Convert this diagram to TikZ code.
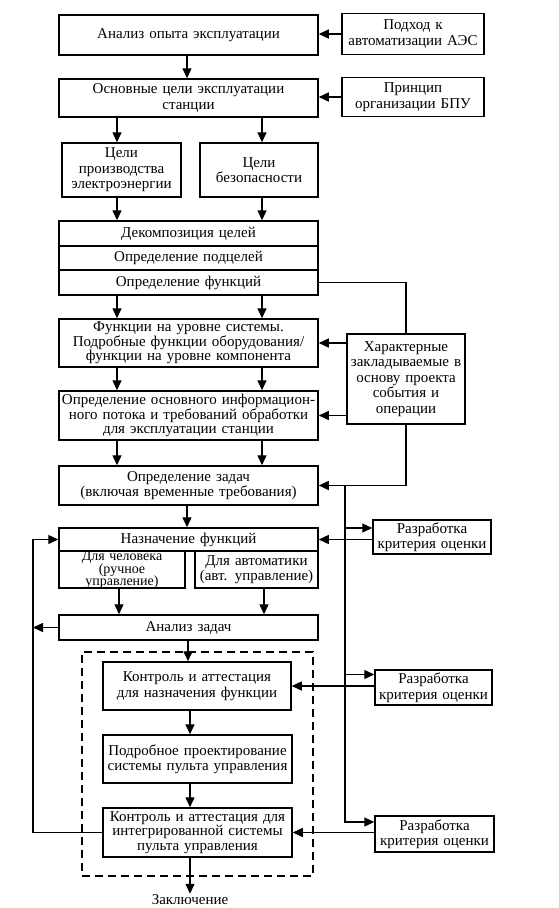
\documentclass[tikz,border=0pt]{standalone}
\usepackage{fontspec}
\setmainfont{Liberation Serif}
\usetikzlibrary{arrows.meta,calc}
\newcommand\mytightlines{\lineskiplimit=-20pt\relax\lineskip=0pt\relax}
\begin{document}
\begin{tikzpicture}[x=1pt,y=-1pt,
  txt/.style={font=\fontsize{15}{15.5}\selectfont},
  box/.style={draw, line width=1.5pt, inner sep=0pt, align=center, txt},
  arr/.style={line width=1.4pt, -{Triangle[length=10pt,width=9pt]}},
  ln/.style={line width=1.4pt},
  dashbox/.style={draw, line width=1.4pt, dash pattern=on 8pt off 5pt, inner sep=0pt},
]
\useasboundingbox (0,0) rectangle (559,908);
\fill[white] (0,0) rectangle (559,908);

% column coordinates
\coordinate (cL) at (117,0);
\coordinate (cR) at (262,0);
\coordinate (cM) at (187,0);
\coordinate (cL2) at (119,0);
\coordinate (cR2) at (264,0);
\coordinate (cA) at (188,0);
\coordinate (cK) at (190,0);
\coordinate (vx) at (345,0);
\coordinate (fbx) at (33,0);

% dashed frame
\node[dashbox, minimum width=231pt, minimum height=224pt] (dash) at (197.5,764) {};

% boxes
\node[box, minimum width=259pt, minimum height=40pt, text width=255pt] (b1) at (188.5,35) {Анализ опыта эксплуатации};
\node[box, minimum width=142pt, minimum height=41pt, text width=140pt] (p1) at (413,34) {Подход к\\автоматизации АЭС};
\node[box, minimum width=259pt, minimum height=38pt, text width=255pt] (b2) at (188.5,98) {Основные цели эксплуатации\\станции};
\node[box, minimum width=142pt, minimum height=39pt, text width=140pt] (p2) at (413,97) {Принцип\\организации БПУ};
\node[box, minimum width=119pt, minimum height=54pt, text width=117pt] (g1) at (121.5,170) {Цели\\производства\\электроэнергии};
\node[box, minimum width=118pt, minimum height=54pt, text width=116pt] (g2) at (259,170) {Цели\\безопасности};
\node[box, minimum width=259pt, minimum height=25pt, text width=255pt] (d1) at (188.5,233.5) {Декомпозиция целей};
\node[box, minimum width=259pt, minimum height=24pt, text width=255pt] (d2) at (188.5,258) {Определение подцелей};
\node[box, minimum width=259pt, minimum height=25pt, text width=255pt] (d3) at (188.5,282.5) {Определение функций};
\node[box, minimum width=259pt, minimum height=48pt, text width=257pt, font=\fontsize{15}{14.5}\selectfont] (f1) at (188.5,343) {Функции на уровне системы.\\Подробные функции оборудования/\\функции на уровне компонента};
\node[box, minimum width=118pt, minimum height=90pt, text width=116pt] (ch) at (406,379) {Характерные\\закладываемые в\\основу проекта\\события и\\операции};
\node[box, minimum width=259pt, minimum height=49pt, text width=257pt, font=\fontsize{15}{14.5}\selectfont] (f2) at (188.5,415.5) {Определение основного информацион-\\ного потока и требований обработки\\для эксплуатации станции};
\node[box, minimum width=259pt, minimum height=39pt, text width=255pt] (t1) at (188.5,485.5) {Определение задач\\(включая временные требования)};
\node[box, minimum width=259pt, minimum height=23pt, text width=255pt] (n1) at (188.5,539.5) {Назначение функций};
\node[box, minimum width=126pt, minimum height=37pt, text width=124pt, text height=9.5pt, text depth=27.5pt, font=\fontsize{14}{12.5}\selectfont\mytightlines] (n2) at (122,569.5) {Для человека\\(ручное\\управление)};
\node[box, minimum width=123pt, minimum height=37pt, text width=121pt, font=\fontsize{15}{15}\selectfont] (n3) at (256.5,569.5) {Для автоматики\\(авт. управление)};
\node[box, minimum width=118pt, minimum height=34pt, text width=116pt] (r1) at (432,537) {Разработка\\критерия оценки};
\node[box, minimum width=259pt, minimum height=25pt, text width=255pt] (a1) at (188.5,627.5) {Анализ задач};
\node[box, minimum width=188pt, minimum height=48pt, text width=186pt] (k1) at (197,686) {Контроль и аттестация\\для назначения функции};
\node[box, minimum width=117pt, minimum height=35pt, text width=115pt] (r2) at (433.5,687.5) {Разработка\\критерия оценки};
\node[box, minimum width=189pt, minimum height=48pt, text width=187pt] (p3) at (197.5,759) {Подробное проектирование\\системы пульта управления};
\node[box, minimum width=189pt, minimum height=49pt, text width=187pt, font=\fontsize{15}{14.5}\selectfont] (k2) at (197.5,832.5) {Контроль и аттестация для\\интегрированной системы\\пульта управления};
\node[box, minimum width=119pt, minimum height=36pt, text width=117pt] (r3) at (434.5,834) {Разработка\\критерия оценки};
\node[txt, inner sep=1pt] (z) at (190,900) {Заключение};

% side inputs
\draw[arr] (p1.west) -- (p1.west -| b1.east);
\draw[arr] (p2.west) -- (p2.west -| b2.east);

% main vertical flow
\draw[arr] (b1.south -| cM) -- (b2.north -| cM);
\draw[arr] (b2.south -| cL) -- (g1.north -| cL);
\draw[arr] (b2.south -| cR) -- (g2.north -| cR);
\draw[arr] (g1.south -| cL) -- (d1.north -| cL);
\draw[arr] (g2.south -| cR) -- (d1.north -| cR);
\draw[arr] (d3.south -| cL) -- (f1.north -| cL);
\draw[arr] (d3.south -| cR) -- (f1.north -| cR);
\draw[arr] (f1.south -| cL) -- (f2.north -| cL);
\draw[arr] (f1.south -| cR) -- (f2.north -| cR);
\draw[arr] (f2.south -| cL) -- (t1.north -| cL);
\draw[arr] (f2.south -| cR) -- (t1.north -| cR);
\draw[arr] (t1.south -| cM) -- (n1.north -| cM);
\draw[arr] (n2.south -| cL2) -- (a1.north -| cL2);
\draw[arr] (n3.south -| cR2) -- (a1.north -| cR2);
\draw[arr] (a1.south -| cA) -- (k1.north -| cA);
\draw[arr] (k1.south -| cK) -- (p3.north -| cK);
\draw[arr] (p3.south -| cK) -- (k2.north -| cK);
\draw[arr] (k2.south -| cK) -- (z.north -| cK);

% characteristic events
\draw[ln] (d3.east) -| (ch.north);
\draw[arr] (ch.west |- f1.east) -- (f1.east);
\draw[arr] (ch.west |- f2.east) -- (f2.east);
\draw[arr] (ch.south) |- (t1.east);

% evaluation criteria
\coordinate (r1in) at ([yshift=9pt]r1.west);
\coordinate (r2in) at ([yshift=13pt]r2.west);
\coordinate (r3in) at ([yshift=12pt]r3.west);
\draw[arr] (t1.east -| vx) |- (r3in);
\draw[arr] (r1in -| vx) -- (r1in);
\draw[arr] (r2in -| vx) -- (r2in);
\draw[arr] (r1.west |- n1.east) -- (n1.east);
\draw[arr] (r2.west |- k1.east) -- (k1.east);
\draw[arr] (r3.west |- k2.east) -- (k2.east);

% feedback
\draw[arr] (a1.west) -- (a1.west -| fbx);
\draw[arr] (k2.west) -- (k2.west -| fbx) |- (n1.west);
\end{tikzpicture}
\end{document}
